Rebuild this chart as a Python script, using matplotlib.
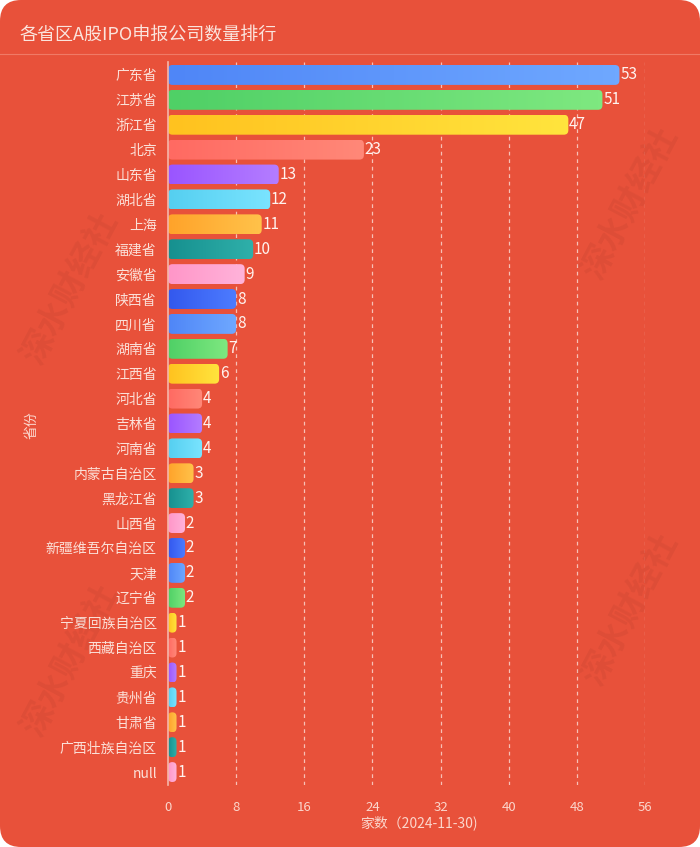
import matplotlib
matplotlib.use("Agg")
import matplotlib.pyplot as plt
from matplotlib.patches import FancyBboxPatch
from matplotlib.colors import LinearSegmentedColormap
import numpy as np

plt.rcParams['font.family'] = ['Noto Sans CJK SC', 'DejaVu Sans']

provinces = ["广东省", "江苏省", "浙江省", "北京", "山东省", "湖北省", "上海", "福建省",
             "安徽省", "陕西省", "四川省", "湖南省", "江西省", "河北省", "吉林省", "河南省",
             "内蒙古自治区", "黑龙江省", "山西省", "新疆维吾尔自治区", "天津", "辽宁省",
             "宁夏回族自治区", "西藏自治区", "重庆", "贵州省", "甘肃省", "广西壮族自治区", "null"]
counts = [53, 51, 47, 23, 13, 12, 11, 10, 9, 8, 8, 7, 6, 4, 4, 4, 3, 3, 2, 2, 2, 2,
          1, 1, 1, 1, 1, 1, 1]
x_ticks = [0, 8, 16, 24, 32, 40, 48, 56]
title = "各省区A股IPO申报公司数量排行"
x_label = "家数（2024-11-30)"
y_label = "省份"

palette = [("#4f86f7", "#6fa8ff"), ("#4fd066", "#7ee880"), ("#ffc21f", "#ffe43d"),
           ("#ff6a62", "#ff8878"), ("#9a55ff", "#b47dff"), ("#55cff0", "#7ae4ff"),
           ("#ffa32a", "#ffc24a"), ("#16908f", "#2fb0aa"), ("#ff96c8", "#ffb3da"),
           ("#3358ee", "#4d7cff")]

BG = "#e8513a"
W, H = 700, 847
fig = plt.figure(figsize=(W / 100, H / 100), dpi=100, facecolor="white")
bgpatch = FancyBboxPatch((0, 0), 1, 1, boxstyle="round,pad=0,rounding_size=0.03",
                         mutation_aspect=W / H, transform=fig.transFigure,
                         facecolor=BG, edgecolor="none", zorder=-10)
fig.patches.append(bgpatch)

# faint watermark
for (wx, wy) in [(0.10, 0.66), (0.90, 0.76), (0.10, 0.22), (0.90, 0.28)]:
    fig.text(wx, wy, "深水财经社", rotation=62, fontsize=24, color="#000000",
             alpha=0.045, ha="center", va="center", fontweight="bold")

# title and separator
fig.text(20 / W, 1 - 35 / H, title, fontsize=13, color="#fbe4dd", ha="left", va="center")
fig.add_artist(plt.Line2D([0, 1], [1 - 54 / H, 1 - 54 / H], transform=fig.transFigure,
                          color="#f07a66", lw=0.8))

left, right = 168 / W, 645 / W
top, bottom = 1 - 62.5 / H, 1 - 784.5 / H
ax = fig.add_axes([left, bottom, right - left, top - bottom])
ax.set_facecolor("none")

n = len(provinces)
ypos = np.arange(n)
bh = 0.8
px_per_x = (645 - 168) / 56.0
px_per_y = (784.5 - 62.5) / n
aspect = px_per_x / px_per_y
grad = np.linspace(0, 1, 64).reshape(1, -1)

for i, (p, v) in enumerate(zip(provinces, counts)):
    c1, c2 = palette[i % len(palette)]
    cmap = LinearSegmentedColormap.from_list("g%d" % i, [c1, c2])
    x0, x1 = 0, v
    y0, y1 = i - bh / 2, i + bh / 2
    r = min(4.5 / px_per_x, v / 2.0)
    patch = FancyBboxPatch((x0, y0), v, bh,
                           boxstyle="round,pad=0,rounding_size=%f" % r,
                           mutation_aspect=aspect, facecolor="none", edgecolor="none")
    ax.add_patch(patch)
    im = ax.imshow(grad, extent=[x0, x1, y1, y0], aspect="auto", cmap=cmap,
                   interpolation="bilinear", zorder=3)
    im.set_clip_path(patch)
    ax.text(v + 0.1, i, str(v), va="center", ha="left", fontsize=11,
            color="#fff3ef", zorder=4)

ax.set_xlim(0, 56)
ax.set_ylim(n - 0.5, -0.5)
ax.set_xticks(x_ticks)
ax.set_yticks(ypos)
ax.set_yticklabels(provinces)
for xt in x_ticks[1:]:
    ax.axvline(xt, color="#f7c0b5", lw=0.9, ls=(0, (3, 3)), zorder=1)
for s in ["top", "right", "bottom"]:
    ax.spines[s].set_visible(False)
ax.spines["left"].set_color("#f5b7aa")
ax.spines["left"].set_linewidth(1.2)
ax.spines["left"].set_zorder(5)
ax.tick_params(axis="y", length=0, pad=8, labelsize=10, labelcolor="#fbe0d8")
ax.tick_params(axis="x", length=0, pad=12, labelsize=9.5, labelcolor="#fbd6cc")

fig.text(419 / W, 1 - 823 / H, x_label, fontsize=10, color="#fbd6cc", ha="center", va="center")
fig.text(32 / W, 1 - 425 / H, y_label, fontsize=10, color="#fbd6cc", ha="center", va="center",
         rotation=90)

fig.savefig("out.png", dpi=100, facecolor="white")
